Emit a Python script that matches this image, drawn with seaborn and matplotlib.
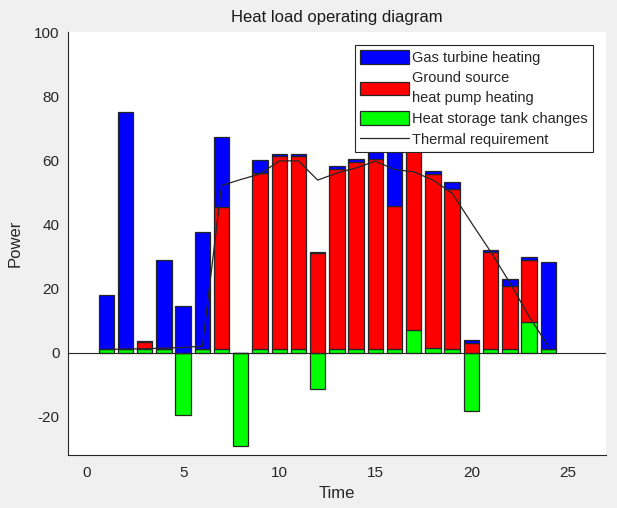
import numpy as np
import pandas as pd
import matplotlib
matplotlib.use("Agg")
import matplotlib.pyplot as plt
import seaborn as sns
from matplotlib.patches import Patch
from matplotlib.lines import Line2D

hours = list(range(1, 25))
gas_turbine = [17.0, 74.0, 0.3, 28.0, 14.4, 36.7, 21.8, 0.0, 3.9, 0.8, 0.8, 0.5,
               0.8, 0.8, 5.0, 21.0, 0.0, 0.8, 2.4, 0.8, 0.7, 2.1, 0.8, 27.4]
ground_source = [0.0, 0.0, 2.2, 0.0, 0.0, 0.0, 44.3, 0.0, 55.1, 60.3, 60.3, 31.0,
                 56.4, 58.5, 59.5, 44.7, 58.0, 54.4, 49.9, 3.0, 30.3, 19.9, 19.4, 0.0]
storage_change = [1.0, 1.0, 1.0, 1.0, -19.5, 1.0, 1.0, -29.1, 1.0, 1.0, 1.0, -11.5,
                  1.0, 1.0, 1.0, 1.0, 7.2, 1.3, 1.0, -18.2, 1.0, 1.0, 9.5, 1.0]
thermal_requirement = [1.0, 1.1, 1.2, 1.4, 1.6, 2.0, 52.1, 54.0, 55.7, 59.8, 59.8, 53.8,
                       56.0, 57.6, 59.7, 57.1, 56.4, 53.8, 49.7, 40.5, 31.5, 21.8, 11.3, 2.0]

df = pd.DataFrame({
    "Time": hours,
    "gas": gas_turbine,
    "gshp": ground_source,
    "storage": storage_change,
    "demand": thermal_requirement,
})

sns.set_style("white")
plt.rcParams["font.family"] = ["Liberation Sans", "DejaVu Sans"]
plt.rcParams["axes.unicode_minus"] = False

fig = plt.figure(figsize=(6.17, 5.08), dpi=100, facecolor="#f0f0f0")
ax = fig.add_axes([0.110, 0.104, 0.872, 0.833])
ax.set_facecolor("white")

pos_base = df["storage"].clip(lower=0)
edge = "#262626"
lw = 0.9
w = 0.8
ax.bar(df["Time"], df["storage"], width=w, color="#00ff00", edgecolor=edge, linewidth=lw, zorder=2)
ax.bar(df["Time"], df["gshp"], bottom=pos_base, width=w, color="#ff0000", edgecolor=edge, linewidth=lw, zorder=2)
ax.bar(df["Time"], df["gas"], bottom=pos_base + df["gshp"], width=w, color="#0000ff", edgecolor=edge, linewidth=lw, zorder=2)

ax.axhline(0, color="#262626", linewidth=0.8, zorder=3)
sns.lineplot(data=df, x="Time", y="demand", ax=ax, color="#262626", linewidth=0.9, zorder=4)

ax.set_xlim(-1, 27)
ax.set_ylim(-32, 100)
ax.set_xticks([0, 5, 10, 15, 20, 25])
ax.set_yticks([-20, 0, 20, 40, 60, 80, 100])
ax.tick_params(direction="in", length=4, width=0.8, colors="#262626", labelsize=11)
ax.tick_params(axis="x", pad=8)
ax.tick_params(axis="y", pad=6)
for lab in ax.get_xticklabels() + ax.get_yticklabels():
    lab.set_color("#262626")
for s in ["top", "right"]:
    ax.spines[s].set_visible(False)
for s in ["left", "bottom"]:
    ax.spines[s].set_color("#262626")
    ax.spines[s].set_linewidth(0.8)

ax.set_xlabel("Time", fontsize=12, color="#262626", labelpad=4)
ax.set_ylabel("Power", fontsize=12, color="#262626", labelpad=8)
ax.set_title("Heat load operating diagram", fontsize=12, color="#1a1a1a", pad=7)

handles = [
    Patch(facecolor="#0000ff", edgecolor=edge, linewidth=lw),
    Patch(facecolor="#ff0000", edgecolor=edge, linewidth=lw),
    Patch(facecolor="#00ff00", edgecolor=edge, linewidth=lw),
    Line2D([0], [0], color="#262626", linewidth=0.9),
]
labels = ["Gas turbine heating", "Ground source\nheat pump heating",
          "Heat storage tank changes", "Thermal requirement"]
leg = ax.legend(handles, labels, loc="upper right", bbox_to_anchor=(0.976, 0.969),
                fontsize=10.5, frameon=True, fancybox=False, framealpha=1,
                edgecolor="#262626", handlelength=3.35, handleheight=1.05,
                handletextpad=0.25, borderpad=0.35, labelspacing=0.4, borderaxespad=0)
leg.get_frame().set_linewidth(0.8)
leg.set_zorder(10)
for t in leg.get_texts():
    t.set_linespacing(1.6)

fig.savefig("out.png", dpi=100, facecolor=fig.get_facecolor())
